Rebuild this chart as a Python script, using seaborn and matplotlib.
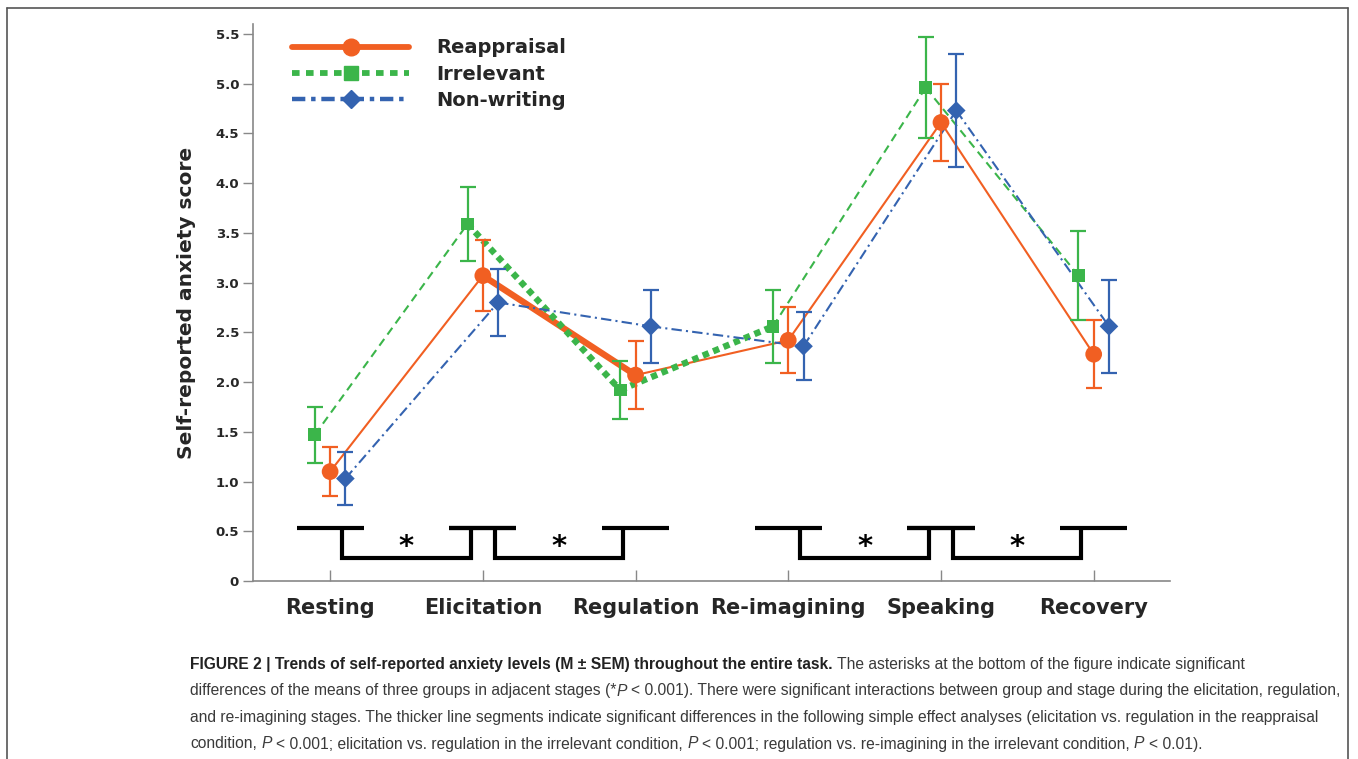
import numpy as np
import pandas as pd
import seaborn as sns
import matplotlib.pyplot as plt
from matplotlib.lines import Line2D

# Stages and group means / SEMs
stages = ["Resting", "Elicitation", "Regulation", "Re-imagining", "Speaking", "Recovery"]
groups = ["Reappraisal", "Irrelevant", "Non-writing"]

reappraisal_mean = [1.10, 3.07, 2.07, 2.42, 4.61, 2.28]
reappraisal_sem = [0.25, 0.36, 0.34, 0.33, 0.39, 0.34]
irrelevant_mean = [1.47, 3.59, 1.92, 2.56, 4.96, 3.07]
irrelevant_sem = [0.28, 0.37, 0.29, 0.37, 0.51, 0.45]
nonwriting_mean = [1.03, 2.80, 2.56, 2.36, 4.73, 2.56]
nonwriting_sem = [0.27, 0.34, 0.37, 0.34, 0.57, 0.47]

# thicker segments (significant simple effects), as stage index pairs
thick_segments = {
    "Reappraisal": [(1, 2)],
    "Irrelevant": [(1, 2), (2, 3)],
    "Non-writing": [],
}
# adjacent stages with a significant difference of means
sig_pairs = [(0, 1), (1, 2), (3, 4), (4, 5)]

caption_lines = [
    [("FIGURE 2 | Trends of self-reported anxiety levels (M \u00b1 SEM) throughout the entire task.", "bold", "normal", False),
     ("The asterisks at the bottom of the figure indicate significant", "normal", "normal", True)],
    [("differences of the means of three groups in adjacent stages (*", "normal", "normal", False),
     ("P", "normal", "italic", False),
     ("< 0.001). There were significant interactions between group and stage during the elicitation, regulation,", "normal", "normal", True)],
    [("and re-imagining stages. The thicker line segments indicate significant differences in the following simple effect analyses (elicitation vs. regulation in the reappraisal", "normal", "normal", False)],
    [("condition,", "normal", "normal", False),
     ("P", "normal", "italic", True),
     ("< 0.001; elicitation vs. regulation in the irrelevant condition,", "normal", "normal", True),
     ("P", "normal", "italic", True),
     ("< 0.001; regulation vs. re-imagining in the irrelevant condition,", "normal", "normal", True),
     ("P", "normal", "italic", True),
     ("< 0.01).", "normal", "normal", True)],
]

colors = {"Reappraisal": "#F15F22", "Irrelevant": "#3BB54A", "Non-writing": "#3463B0"}
offsets = {"Reappraisal": 0.0, "Irrelevant": -0.1, "Non-writing": 0.1}
thin_styles = {"Reappraisal": "-", "Irrelevant": (0, (4, 2.6)), "Non-writing": (0, (5, 2, 1, 2))}
thick_styles = {"Reappraisal": "-", "Irrelevant": (0, (1, 0.75)), "Non-writing": "-"}

means = {"Reappraisal": reappraisal_mean, "Irrelevant": irrelevant_mean, "Non-writing": nonwriting_mean}
sems = {"Reappraisal": reappraisal_sem, "Irrelevant": irrelevant_sem, "Non-writing": nonwriting_sem}

rows = []
for g in groups:
    for i, st in enumerate(stages):
        rows.append({"group": g, "stage": st, "x": i + offsets[g],
                     "mean": means[g][i], "sem": sems[g][i]})
df = pd.DataFrame(rows)

sns.set_theme(style="ticks")
plt.rcParams["font.family"] = ["DejaVu Sans"]

fig = plt.figure(figsize=(13.58, 7.59), dpi=100)
ax = fig.add_axes([0.1863, 0.2345, 0.6753, 0.7339])

# connecting lines, segment by segment
for g in groups:
    d = df[df["group"] == g]
    xs = d["x"].to_numpy()
    ys = d["mean"].to_numpy()
    for k in range(len(stages) - 1):
        thick = (k, k + 1) in thick_segments[g]
        ax.plot(xs[k:k + 2], ys[k:k + 2], color=colors[g],
                lw=4.6 if thick else 1.5,
                linestyle=thick_styles[g] if thick else thin_styles[g],
                dash_capstyle="butt", zorder=2)

# error bars
for g in groups:
    d = df[df["group"] == g]
    ax.errorbar(d["x"], d["mean"], yerr=d["sem"], fmt="none", ecolor=colors[g],
                elinewidth=1.6, capsize=5.5, capthick=1.6, zorder=3)

# markers
sns.scatterplot(data=df, x="x", y="mean", hue="group", style="group", size="group",
                palette=colors,
                markers={"Reappraisal": "o", "Irrelevant": "s", "Non-writing": "D"},
                sizes={"Reappraisal": 145, "Irrelevant": 85, "Non-writing": 90},
                linewidth=0, legend=False, zorder=5, ax=ax)

# significance brackets
b_top, b_bot = 0.53, 0.23
for a, b in sig_pairs:
    ax.plot([a - 0.22, a + 0.22], [b_top, b_top], color="black", lw=3, solid_capstyle="butt")
    ax.plot([b - 0.22, b + 0.22], [b_top, b_top], color="black", lw=3, solid_capstyle="butt")
    ax.plot([a + 0.08, a + 0.08, b - 0.08, b - 0.08], [b_top, b_bot, b_bot, b_top],
            color="black", lw=3, solid_joinstyle="miter")
    ax.text((a + b) / 2, 0.34, "*", ha="center", va="center", fontsize=21,
            fontweight="bold", color="black")

ax.set_xlim(-0.505, 5.5)
ax.set_ylim(0, 5.6)
ax.set_xticks(range(len(stages)))
ax.set_xticklabels(stages, fontsize=15, fontweight="bold")
yt = np.arange(0, 5.51, 0.5)
ax.set_yticks(yt)
ax.set_yticklabels(["0" if v == 0 else f"{v:.1f}" for v in yt], fontsize=9.5, fontweight="bold")
ax.tick_params(axis="x", direction="in", length=8, width=1, color="#888888", pad=12)
ax.tick_params(axis="y", direction="out", length=7, width=1, color="#888888", pad=3)
ax.set_xlabel("")
ax.set_ylabel("Self-reported anxiety score", fontsize=14.5, fontweight="bold", labelpad=14)
for s in ["top", "right"]:
    ax.spines[s].set_visible(False)
for s in ["left", "bottom"]:
    ax.spines[s].set_color("#888888")
    ax.spines[s].set_linewidth(1.2)

handles = [
    Line2D([], [], color=colors["Reappraisal"], lw=4.2, marker="o", markersize=12),
    Line2D([], [], color=colors["Irrelevant"], lw=4.2, linestyle=(0, (1.3, 1.1)),
           marker="s", markersize=10),
    Line2D([], [], color=colors["Non-writing"], lw=3.2, linestyle=(0, (3, 1.3, 1, 1.3)),
           marker="D", markersize=9),
]
leg = ax.legend(handles, groups, loc="upper left", bbox_to_anchor=(0.043, 0.974),
                frameon=False, handlelength=6.0, handletextpad=1.4, labelspacing=0.38,
                borderpad=0, borderaxespad=0,
                prop={"size": 14, "weight": "bold", "family": "DejaVu Sans"})

# caption with mixed weights, fitted to the caption width
renderer = fig.canvas.get_renderer()
cap_family = ["Liberation Sans", "DejaVu Sans"]


def text_width(s, size, weight, style):
    t = fig.text(0, 0, s, fontsize=size, fontweight=weight, fontstyle=style, family=cap_family)
    w = t.get_window_extent(renderer).width
    t.remove()
    return w


def space_width(size):
    return text_width("a a", size, "normal", "normal") - text_width("aa", size, "normal", "normal")


def line_width(frags, size):
    total = 0.0
    for s, w, st, sp in frags:
        if sp:
            total += space_width(size)
        total += text_width(s, size, w, st)
    return total


base = 12.0
target = 1344 - 190
cap_size = base * target / line_width(caption_lines[1], base)

x0 = 190
y_base = [669, 695.5, 722, 748.5]
W, H = fig.bbox.width, fig.bbox.height
for frags, yb in zip(caption_lines, y_base):
    x = x0
    for s, w, st, sp in frags:
        if sp:
            x += space_width(cap_size)
        t = fig.text(x / W, 1 - yb / H, s, fontsize=cap_size, fontweight=w, fontstyle=st,
                     family=cap_family, va="baseline", ha="left",
                     color="#222222" if w == "bold" else "#3a3a3a")
        x += t.get_window_extent(renderer).width

# thin frame around the figure panel
frame_kw = dict(color="#555555", lw=1.2, transform=fig.transFigure, clip_on=False)
fig.add_artist(Line2D([7 / W, 1348 / W], [1 - 8 / H, 1 - 8 / H], **frame_kw))
fig.add_artist(Line2D([7 / W, 7 / W], [1 - 8 / H, 0], **frame_kw))
fig.add_artist(Line2D([1348 / W, 1348 / W], [1 - 8 / H, 0], **frame_kw))

fig.savefig("out.png", dpi=100)
